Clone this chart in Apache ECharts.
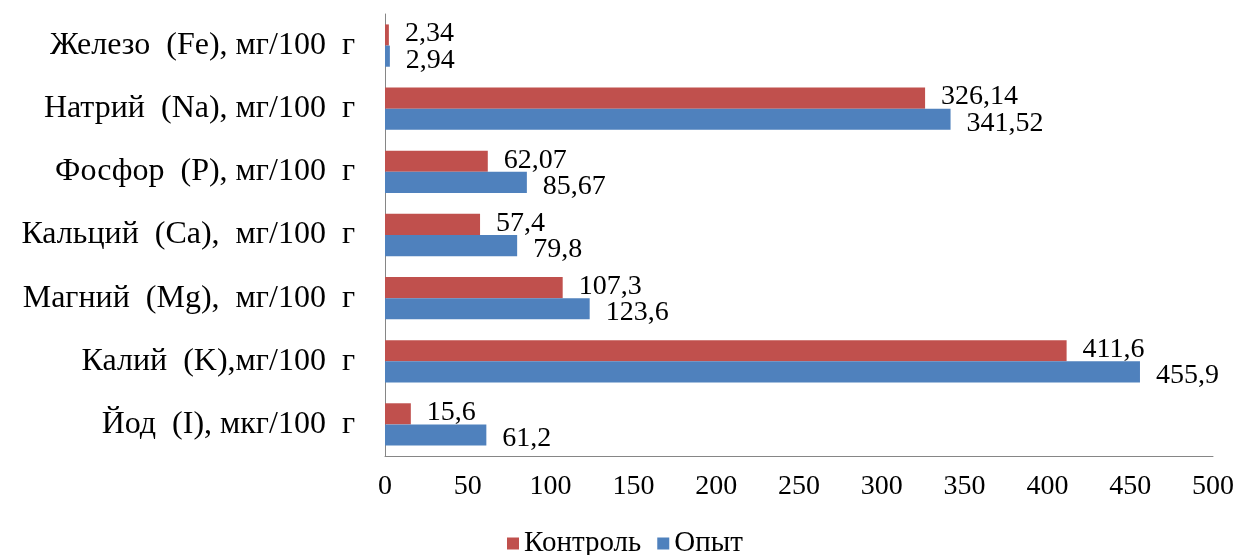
<!DOCTYPE html>
<html>
<head>
<meta charset="utf-8">
<script src="https://cdn.jsdelivr.net/npm/echarts@6/dist/echarts.min.js"></script>
<style>html,body{margin:0;padding:0;background:#fff}#c{width:1237px;height:555px}</style>
</head>
<body>
<div id="c"></div>
<script>
const categories = ['Йод  (I), мкг/100  г','Калий  (K),мг/100  г','Магний  (Mg),  мг/100  г','Кальций  (Ca),  мг/100  г','Фосфор  (P), мг/100  г','Натрий  (Na), мг/100  г','Железо  (Fe), мг/100  г'];
const control = [15.6, 411.6, 107.3, 57.4, 62.07, 326.14, 2.34];
const experiment = [61.2, 455.9, 123.6, 79.8, 85.67, 341.52, 2.94];
const xTicks = [0, 50, 100, 150, 200, 250, 300, 350, 400, 450, 500];

const FONT = '"Liberation Serif", "Times New Roman", serif';
const fmt = v => String(v).replace('.', ',');
const chart = echarts.init(document.getElementById('c'));
chart.setOption({
  animation: false,
  backgroundColor: '#fff',
  grid: {left: 385, right: 24, top: 14, bottom: 99, containLabel: false},
  legend: {
    data: ['Контроль', 'Опыт'],
    left: 502, top: 524,
    icon: 'rect', itemWidth: 12, itemHeight: 12, itemGap: 16,
    textStyle: {fontFamily: FONT, fontSize: 29, color: '#000'}
  },
  xAxis: {
    type: 'value', min: xTicks[0], max: xTicks[xTicks.length - 1], interval: 50,
    axisLine: {show: true, lineStyle: {color: '#868686', width: 1}},
    axisTick: {show: false}, splitLine: {show: false},
    axisLabel: {fontFamily: FONT, fontSize: 28, color: '#000', margin: 17}
  },
  yAxis: {
    type: 'category', data: categories,
    axisLine: {show: true, lineStyle: {color: '#868686', width: 1}},
    axisTick: {show: false},
    axisLabel: {fontFamily: FONT, fontSize: 32, color: '#000', margin: 30}
  },
  series: [
    {
      name: 'Контроль', type: 'bar', data: control, barGap: '0%', barCategoryGap: '33%',
      itemStyle: {color: '#C0504D'},
      label: {show: true, position: 'right', distance: 16, offset: [0, -1], formatter: p => fmt(p.value),
        fontFamily: FONT, fontSize: 28, color: '#000'}
    },
    {
      name: 'Опыт', type: 'bar', data: experiment, barGap: '0%', barCategoryGap: '33%',
      itemStyle: {color: '#4F81BD'},
      label: {show: true, position: 'right', distance: 16, offset: [0, 4], formatter: p => fmt(p.value),
        fontFamily: FONT, fontSize: 28, color: '#000'}
    }
  ]
});
</script>
</body>
</html>
